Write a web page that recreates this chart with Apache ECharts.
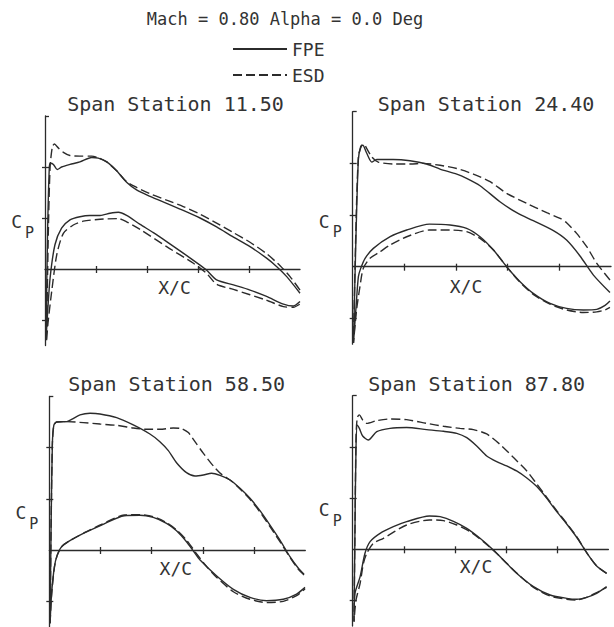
<!DOCTYPE html>
<html><head><meta charset="utf-8">
<script src="https://cdn.jsdelivr.net/npm/echarts@6/dist/echarts.min.js"></script>
<style>html,body{margin:0;padding:0;background:#fff}#c{width:614px;height:627px}</style>
</head><body><div id="c"></div>
<script>
// ---- text ----
const headerText = 'Mach = 0.80 Alpha = 0.0 Deg';
const seriesNames = ['FPE', 'ESD'];
const panelTitles = ['Span Station 11.50', 'Span Station 24.40', 'Span Station 58.50', 'Span Station 87.80'];
const xName = 'X/C';
const yTicks = [-1.2, -0.8, -0.4, 0.4];
const xTicks = [0.2, 0.4, 0.6, 0.8];

// ---- data: [X/C, Cp]; upper surfaces start at stagnation point, leading edge -> trailing edge ----
const p1FpeUpper = [[0.004,0.55],[0.010,-0.28],[0.017,-0.80],[0.022,-0.83],[0.033,-0.82],[0.048,-0.78],[0.065,-0.80],[0.098,-0.82],[0.137,-0.84],[0.183,-0.875],[0.209,-0.87],[0.242,-0.84],[0.281,-0.77],[0.320,-0.68],[0.359,-0.62],[0.412,-0.57],[0.477,-0.515],[0.542,-0.46],[0.608,-0.40],[0.673,-0.33],[0.739,-0.25],[0.804,-0.175],[0.869,-0.085],[0.908,-0.02],[0.948,0.06],[1.0,0.19]];
const p1FpeLower = [[0.010,0.35],[0.020,0.07],[0.039,-0.19],[0.065,-0.32],[0.098,-0.385],[0.137,-0.41],[0.176,-0.42],[0.216,-0.42],[0.255,-0.437],[0.288,-0.445],[0.320,-0.42],[0.373,-0.35],[0.425,-0.285],[0.477,-0.215],[0.542,-0.125],[0.608,-0.03],[0.634,0.01],[0.673,0.085],[0.739,0.125],[0.804,0.165],[0.869,0.215],[0.935,0.275],[0.974,0.29],[1.0,0.255]];
const p1EsdUpper = [[0.006,0.57],[0.013,-0.28],[0.020,-0.80],[0.029,-0.96],[0.037,-0.98],[0.052,-0.95],[0.072,-0.915],[0.098,-0.89],[0.137,-0.885],[0.183,-0.885],[0.209,-0.873],[0.242,-0.84],[0.281,-0.77],[0.320,-0.685],[0.359,-0.64],[0.412,-0.59],[0.477,-0.54],[0.542,-0.49],[0.608,-0.43],[0.673,-0.36],[0.739,-0.285],[0.804,-0.21],[0.869,-0.12],[0.922,-0.025],[0.961,0.06],[1.0,0.165]];
const p1EsdLower = [[0.012,0.42],[0.026,0.18],[0.046,-0.11],[0.072,-0.28],[0.111,-0.345],[0.150,-0.375],[0.216,-0.39],[0.288,-0.395],[0.320,-0.37],[0.373,-0.31],[0.477,-0.175],[0.582,-0.045],[0.634,0.035],[0.673,0.12],[0.739,0.16],[0.869,0.245],[0.935,0.295],[0.974,0.30],[1.0,0.275]];

const p2FpeUpper = [[0.003,0.59],[0.013,-0.26],[0.022,-0.83],[0.031,-0.93],[0.039,-0.94],[0.054,-0.88],[0.074,-0.81],[0.093,-0.83],[0.157,-0.83],[0.222,-0.82],[0.286,-0.795],[0.338,-0.756],[0.403,-0.717],[0.441,-0.684],[0.493,-0.627],[0.570,-0.503],[0.635,-0.418],[0.699,-0.356],[0.777,-0.279],[0.828,-0.206],[0.880,-0.083],[0.932,0.065],[0.996,0.20]];
const p2FpeLower = [[0.013,0.31],[0.022,0.077],[0.031,0.013],[0.048,-0.065],[0.080,-0.142],[0.145,-0.232],[0.209,-0.284],[0.297,-0.33],[0.377,-0.323],[0.441,-0.297],[0.493,-0.232],[0.545,-0.129],[0.596,0.0],[0.648,0.116],[0.699,0.206],[0.764,0.284],[0.828,0.323],[0.893,0.335],[0.945,0.33],[0.977,0.30],[0.996,0.266]];
const p2EsdUpper = [[0.003,0.59],[0.012,-0.26],[0.022,-0.85],[0.035,-0.94],[0.044,-0.947],[0.054,-0.916],[0.074,-0.85],[0.099,-0.81],[0.157,-0.795],[0.222,-0.795],[0.274,-0.80],[0.338,-0.785],[0.403,-0.76],[0.467,-0.717],[0.532,-0.658],[0.596,-0.568],[0.674,-0.49],[0.751,-0.418],[0.803,-0.374],[0.828,-0.34],[0.867,-0.258],[0.906,-0.155],[0.945,-0.026],[0.996,0.103]];
const p2EsdLower = [[0.015,0.335],[0.028,0.155],[0.041,0.013],[0.067,-0.065],[0.106,-0.116],[0.145,-0.168],[0.209,-0.232],[0.297,-0.284],[0.377,-0.284],[0.441,-0.271],[0.493,-0.219],[0.545,-0.129],[0.596,0.0],[0.648,0.121],[0.699,0.214],[0.764,0.29],[0.828,0.335],[0.893,0.354],[0.945,0.35],[0.977,0.335],[0.996,0.315]];

const p3FpeUpper = [[0.003,0.573],[0.007,-0.18],[0.012,-0.83],[0.018,-0.977],[0.029,-1.0],[0.068,-1.003],[0.087,-1.02],[0.120,-1.055],[0.159,-1.068],[0.198,-1.063],[0.263,-1.034],[0.328,-0.977],[0.393,-0.906],[0.432,-0.846],[0.465,-0.776],[0.497,-0.682],[0.536,-0.604],[0.569,-0.578],[0.602,-0.586],[0.634,-0.60],[0.667,-0.583],[0.706,-0.547],[0.745,-0.482],[0.784,-0.404],[0.823,-0.307],[0.862,-0.195],[0.901,-0.078],[0.940,0.052],[0.973,0.143],[0.995,0.19]];
const p3FpeLower = [[0.009,0.34],[0.020,0.13],[0.031,0.039],[0.048,-0.026],[0.074,-0.065],[0.139,-0.135],[0.204,-0.195],[0.293,-0.268],[0.354,-0.271],[0.406,-0.255],[0.458,-0.208],[0.497,-0.151],[0.536,-0.065],[0.563,0.008],[0.589,0.078],[0.654,0.203],[0.719,0.307],[0.784,0.37],[0.849,0.396],[0.914,0.385],[0.966,0.344],[0.999,0.292]];
const p3EsdUpper = [[0.003,0.573],[0.007,-0.18],[0.012,-0.83],[0.018,-0.977],[0.029,-1.0],[0.068,-1.003],[0.133,-0.995],[0.198,-0.984],[0.263,-0.974],[0.328,-0.953],[0.380,-0.943],[0.432,-0.943],[0.484,-0.953],[0.517,-0.948],[0.543,-0.917],[0.569,-0.846],[0.602,-0.755],[0.641,-0.656],[0.673,-0.591],[0.706,-0.547],[0.745,-0.477],[0.784,-0.396],[0.823,-0.297],[0.862,-0.182],[0.901,-0.065],[0.940,0.057],[0.973,0.151],[0.995,0.195]];
const p3EsdLower = [[0.009,0.352],[0.020,0.135],[0.031,0.042],[0.048,-0.024],[0.074,-0.065],[0.139,-0.137],[0.204,-0.2],[0.293,-0.273],[0.354,-0.276],[0.406,-0.26],[0.458,-0.214],[0.497,-0.157],[0.536,-0.078],[0.576,0.031],[0.615,0.13],[0.654,0.214],[0.719,0.326],[0.784,0.385],[0.849,0.411],[0.914,0.401],[0.966,0.357],[0.999,0.302]];

const p4FpeUpper = [[0.005,0.565],[0.009,-0.177],[0.013,-0.80],[0.018,-0.97],[0.026,-0.945],[0.039,-0.885],[0.061,-0.854],[0.094,-0.919],[0.146,-0.945],[0.211,-0.951],[0.289,-0.935],[0.355,-0.922],[0.407,-0.906],[0.446,-0.872],[0.485,-0.807],[0.524,-0.729],[0.563,-0.685],[0.602,-0.651],[0.641,-0.612],[0.681,-0.557],[0.720,-0.49],[0.759,-0.398],[0.798,-0.294],[0.837,-0.198],[0.876,-0.094],[0.915,0.026],[0.954,0.13],[0.993,0.1875]];
const p4FpeLower = [[0.009,0.344],[0.029,0.214],[0.048,0.031],[0.068,-0.06],[0.107,-0.125],[0.159,-0.177],[0.211,-0.216],[0.300,-0.26],[0.342,-0.255],[0.394,-0.219],[0.446,-0.164],[0.498,-0.086],[0.550,0.005],[0.589,0.083],[0.641,0.1875],[0.707,0.292],[0.772,0.357],[0.837,0.383],[0.876,0.39],[0.915,0.375],[0.954,0.344],[0.993,0.292]];
const p4EsdUpper = [[0.005,0.565],[0.009,-0.177],[0.013,-0.88],[0.018,-1.03],[0.026,-1.05],[0.039,-1.01],[0.055,-0.984],[0.094,-1.005],[0.146,-1.018],[0.211,-1.013],[0.289,-0.984],[0.355,-0.961],[0.420,-0.945],[0.472,-0.935],[0.524,-0.901],[0.576,-0.82],[0.628,-0.719],[0.681,-0.612],[0.720,-0.51],[0.759,-0.406],[0.798,-0.302],[0.837,-0.203],[0.876,-0.099],[0.915,0.026],[0.954,0.13],[0.993,0.1875]];
const p4EsdLower = [[0.013,0.396],[0.029,0.266],[0.042,0.109],[0.055,0.031],[0.081,-0.047],[0.120,-0.086],[0.211,-0.19],[0.300,-0.229],[0.355,-0.224],[0.407,-0.19],[0.459,-0.138],[0.511,-0.06],[0.563,0.031],[0.602,0.109],[0.654,0.208],[0.707,0.297],[0.772,0.365],[0.837,0.39],[0.876,0.396],[0.915,0.375],[0.954,0.339],[0.993,0.297]];

// ---- layout / style ----
const INK = '#2b2b2b', TXT = '#333333', FONT = 'DejaVu Sans Mono';
const layouts = [
  {grid:{left:45, top:116, width:255, height:229.5}, title:[175.5,103.5], xc:[174.5,287], cpPad:[0,0,7,0]},
  {grid:{left:352.7, top:111.7, width:258.3, height:232.5}, title:[486,103.5], xc:[466,286.5], cpPad:[0,0,2,0]},
  {grid:{left:49.3, top:396.4, width:256, height:230.4}, title:[176.7,384], xc:[175.8,568.3], cpPad:[13,0,0,0]},
  {grid:{left:352.7, top:395.7, width:255.7, height:230.4}, title:[476.7,383.5], xc:[476,566.5], cpPad:[9,0,0,0]}
];
const panelData = [
  [p1FpeUpper, p1FpeLower, p1EsdUpper, p1EsdLower],
  [p2FpeUpper, p2FpeLower, p2EsdUpper, p2EsdLower],
  [p3FpeUpper, p3FpeLower, p3EsdUpper, p3EsdLower],
  [p4FpeUpper, p4FpeLower, p4EsdUpper, p4EsdLower]
];
function loop(upper, lower) { return upper.slice().reverse().concat(lower); }
function txt(s, x, y, size) {
  return {type:'text', x:x, y:y, silent:true,
    style:{text:s, font:size + 'px "' + FONT + '"', fill:TXT, align:'center', verticalAlign:'middle'}};
}

const grid = [], xAxis = [], yAxis = [], series = [], graphic = [];
layouts.forEach((L, i) => {
  grid.push(Object.assign({outerBoundsMode: 'none', containLabel: false}, L.grid));
  const lineSt = {color: INK, width: 1.3};
  xAxis.push({gridIndex:i, type:'value', min:0, max:1, interval:0.2, position:'bottom',
    axisLine:{show:true, onZero:true, onZeroAxisIndex:2*i, lineStyle:lineSt},
    axisTick:{show:true, length:4, customValues:xTicks, lineStyle:lineSt},
    axisLabel:{show:false}, splitLine:{show:false}});
  xAxis.push({gridIndex:i, type:'value', min:0, max:1, interval:0.2, position:'top',
    axisLine:{show:false, onZero:true, onZeroAxisIndex:2*i+1},
    axisTick:{show:true, length:3, customValues:xTicks, lineStyle:lineSt},
    axisLabel:{show:false}, splitLine:{show:false}});
  yAxis.push({gridIndex:i, type:'value', inverse:true, min:-1.2, max:0.6, interval:0.4, position:'left',
    axisLine:{show:true, onZero:true, onZeroAxisIndex:2*i, lineStyle:lineSt},
    axisTick:{show:true, length:3, customValues:yTicks.filter(v => v !== -1.2), lineStyle:lineSt},
    axisLabel:{show:false}, splitLine:{show:false},
    name:'{c|C}\n{p|P}', nameLocation:'middle', nameRotate:0, nameGap:11,
    nameTextStyle:{padding:L.cpPad, rich:{
      c:{fontFamily:FONT, fontSize:18, color:TXT, lineHeight:11, align:'right', padding:[0,12,0,0]},
      p:{fontFamily:FONT, fontSize:15, color:TXT, lineHeight:11, align:'right'}}}});
  yAxis.push({gridIndex:i, type:'value', inverse:true, min:-1.2, max:0.6, interval:0.4, position:'right',
    axisLine:{show:false, onZero:true, onZeroAxisIndex:2*i+1},
    axisTick:{show:true, length:4, customValues:yTicks, lineStyle:lineSt},
    axisLabel:{show:false}, splitLine:{show:false}});
  const d = panelData[i];
  [[d[0], d[1], 'solid'], [d[2], d[3], [9, 4]]].forEach((s, k) => {
    series.push({type:'line', name:seriesNames[k], xAxisIndex:2*i, yAxisIndex:2*i,
      data:loop(s[0], s[1]), symbol:'none', showSymbol:false, smooth:0.25, clip:false, silent:true,
      lineStyle:{color:INK, width:1.4, type:s[2]}, itemStyle:{color:INK}});
  });
  graphic.push(txt(panelTitles[i], L.title[0], L.title[1], 20));
  graphic.push(txt(xName, L.xc[0], L.xc[1], 18));
});
graphic.push(txt(headerText, 285, 19, 17));

const chart = echarts.init(document.getElementById('c'), null, {renderer:'svg', width:614, height:627});
chart.setOption({
  backgroundColor:'#ffffff', animation:false,
  legend:{orient:'vertical', left:232, top:40, itemWidth:54, itemHeight:14, itemGap:8, padding:0,
    selectedMode:false, data:seriesNames, itemStyle:{opacity:0},
    textStyle:{fontFamily:FONT, fontSize:18, color:TXT}},
  grid, xAxis, yAxis, series, graphic
});
</script></body></html>
